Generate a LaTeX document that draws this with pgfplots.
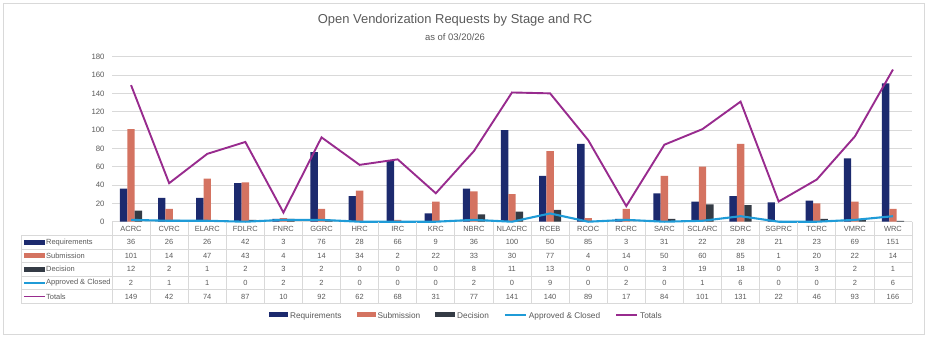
\documentclass[border=0pt]{standalone}
\usepackage{pgfplots}
\pgfplotsset{compat=1.18}
\usepackage{pgfplotstable}
\usepackage{fontspec}
\setmainfont{Liberation Sans}

\definecolor{reqc}{HTML}{1C2A6E}
\definecolor{subc}{HTML}{D47361}
\definecolor{decc}{HTML}{343B45}
\definecolor{appc}{HTML}{1F9BD7}
\definecolor{totc}{HTML}{982B8E}
\definecolor{gridc}{HTML}{D9D9D9}
\definecolor{txtc}{HTML}{595959}

\pgfplotstableread{
idx rc     req sub dec app tot
0   ACRC   36  101 12  2   149
1   CVRC   26  14  2   1   42
2   ELARC  26  47  1   1   74
3   FDLRC  42  43  2   0   87
4   FNRC   3   4   3   2   10
5   GGRC   76  14  2   2   92
6   HRC    28  34  0   0   62
7   IRC    66  2   0   0   68
8   KRC    9   22  0   0   31
9   NBRC   36  33  8   2   77
10  NLACRC 100 30  11  0   141
11  RCEB   50  77  13  9   140
12  RCOC   85  4   0   0   89
13  RCRC   3   14  0   2   17
14  SARC   31  50  3   0   84
15  SCLARC 22  60  19  1   101
16  SDRC   28  85  18  6   131
17  SGPRC  21  1   0   0   22
18  TCRC   23  20  3   0   46
19  VMRC   69  22  2   2   93
20  WRC    151 14  1   6   166
}\datatable

\newcommand\chartfont{\fontsize{7.5}{9}\selectfont}

\begin{document}
\begin{tikzpicture}[x=1bp,y=1bp]
\useasboundingbox (0,0) rectangle (928,336);
\draw[gridc, line width=0.8bp] (3,2) rectangle (924,333);
\coordinate (O) at (112,114.3);

% title
\node[txtc] at (455,316) {\fontsize{13}{15}\selectfont Open Vendorization Requests by Stage and RC};
\node[txtc] at (455,299) {\fontsize{9.5}{11}\selectfont as of 03/20/26};

\begin{axis}[
  at={(O)}, anchor=south west,
  scale only axis, width=800bp, height=165bp,
  xmin=-0.5, xmax=20.5, ymin=0, ymax=180,
  xtick=\empty, ytick={0,20,...,180},
  ymajorgrids, grid style={gridc, line width=0.8bp},
  axis line style={draw=none}, major tick length=0pt,
  yticklabel style={font=\fontsize{7.8}{9}\selectfont, text=txtc, xshift=-4bp},
  /pgf/number format/assume math mode=true,
  clip=false,
  legend columns=5,
  legend style={at={(0.443,-0.5715)}, anchor=center, draw=none,
    font=\fontsize{8.3}{10}\selectfont, text=txtc,
    /tikz/every even column/.append style={column sep=13bp},
    inner sep=0pt, cells={anchor=west}},
]
\addplot[ybar, bar width=7.4bp, bar shift=-7.4bp, fill=reqc, draw=none,
  legend image code/.code={\fill[reqc] (0bp,-1.2bp) rectangle (19bp,4.3bp);}]
  table[x=idx, y=req] {\datatable};
\addplot[ybar, bar width=7.4bp, bar shift=0bp, fill=subc, draw=none,
  legend image code/.code={\fill[subc] (0bp,-1.2bp) rectangle (19bp,4.3bp);}]
  table[x=idx, y=sub] {\datatable};
\addplot[ybar, bar width=7.4bp, bar shift=7.4bp, fill=decc, draw=none,
  legend image code/.code={\fill[decc] (0bp,-1.2bp) rectangle (20bp,4.3bp);}]
  table[x=idx, y=dec] {\datatable};
\addplot[sharp plot, draw=appc, line width=2.1bp, no markers,
  legend image code/.code={\draw[draw=appc, line width=2bp] (0bp,1.5bp) -- (21bp,1.5bp);}]
  table[x=idx, y=app] {\datatable};
\addplot[sharp plot, draw=totc, line width=1.9bp, no markers,
  legend image code/.code={\draw[draw=totc, line width=2bp] (0bp,1.5bp) -- (21bp,1.5bp);}]
  table[x=idx, y=tot] {\datatable};
\legend{Requirements, Submission, Decision, Approved \& Closed, Totals}
\end{axis}

% data table
\begin{scope}[gridc, line width=0.8bp]
\foreach \yy in {100.7,87.1,73.5,59.9,46.3,32.7} \draw (21,\yy) -- (912,\yy);
\draw (21,100.7) -- (21,32.7);
\foreach \k in {0,...,21} \draw ({112+38.095*\k},114.3) -- ({112+38.095*\k},32.7);
\end{scope}

\foreach \i in {0,...,20} {
  \foreach \col/\r in {rc/0,req/1,sub/2,dec/3,app/4,tot/5} {
    \pgfplotstablegetelem{\i}{\col}\of\datatable
    \node[txtc, inner sep=0pt] at ({112+38.095*(\i+0.5)},{107.5-13.6*\r}) {\chartfont\pgfplotsretval};
  }
}

% row headers
\fill[reqc] (24,91.4) rectangle (45,96.4);
\fill[subc] (24,77.8) rectangle (45,82.8);
\fill[decc] (24,64) rectangle (45,69.4);
\draw[appc, line width=1.8bp] (24,53.1) -- (45,53.1);
\draw[totc, line width=1.8bp] (24,39.5) -- (45,39.5);
\foreach \name/\r in {Requirements/1,Submission/2,Decision/3,Approved \& Closed/4,Totals/5}
  \node[txtc, anchor=west, inner sep=0pt] at (46,{107.5-13.6*\r}) {\chartfont\name};

\end{tikzpicture}
\end{document}
